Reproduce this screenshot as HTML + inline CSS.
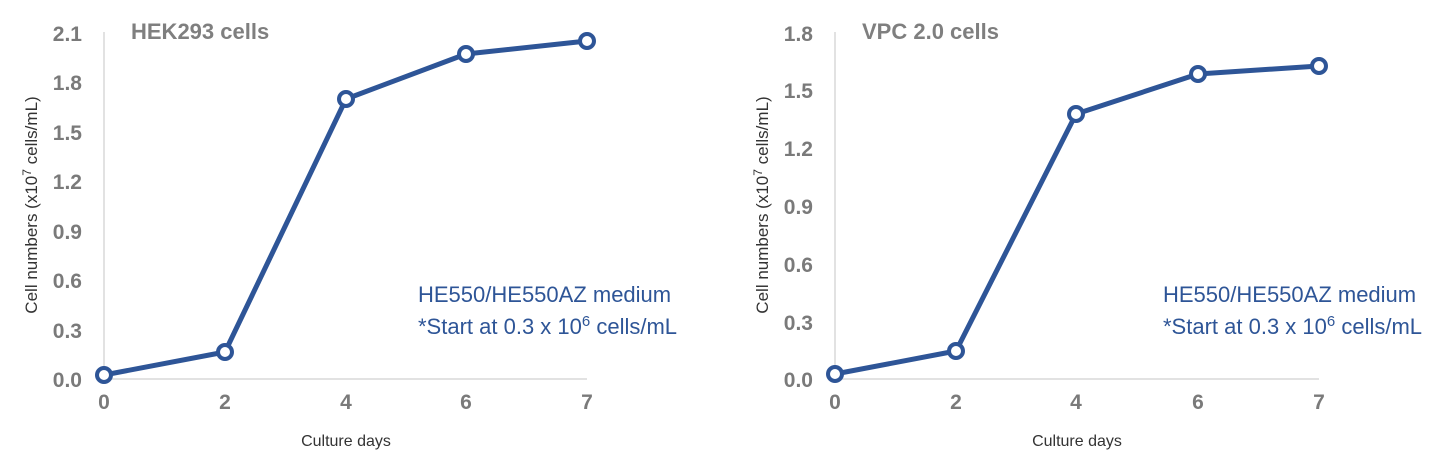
<!DOCTYPE html>
<html><head><meta charset="utf-8"><style>
html,body{margin:0;padding:0;background:#fff;}
svg{display:block;font-family:"Liberation Sans",Arial,sans-serif;}
</style></head><body>
<svg width="1440" height="475" viewBox="0 0 1440 475" xmlns="http://www.w3.org/2000/svg">
<g id="L">
  <line x1="104" y1="32" x2="104" y2="379" stroke="#d9d9d9" stroke-width="1.5"/>
  <line x1="104" y1="379" x2="587" y2="379" stroke="#d9d9d9" stroke-width="1.5"/>
  <g fill="#7a7a7a" font-size="21" font-weight="bold" text-anchor="end">
    <text x="82" y="387">0.0</text><text x="82" y="338">0.3</text><text x="82" y="288">0.6</text>
    <text x="82" y="239">0.9</text><text x="82" y="189">1.2</text><text x="82" y="140">1.5</text>
    <text x="82" y="90">1.8</text><text x="82" y="41">2.1</text>
  </g>
  <g fill="#7a7a7a" font-size="21" font-weight="bold" text-anchor="middle">
    <text x="104" y="409">0</text><text x="225" y="409">2</text><text x="346" y="409">4</text><text x="466" y="409">6</text><text x="587" y="409">7</text>
  </g>
  <text x="346" y="446" font-size="16" fill="#333" text-anchor="middle">Culture days</text>
  <text transform="translate(37,205) rotate(-90)" font-size="17" fill="#333" text-anchor="middle">Cell numbers (x10<tspan font-size="12" dy="-6">7</tspan><tspan dy="6"> cells/mL)</tspan></text>
  <text x="131" y="39" font-size="22" font-weight="bold" fill="#7f7f7f">HEK293 cells</text>
  <text x="418" y="302" font-size="22" fill="#2e5597">HE550/HE550AZ medium</text>
  <text x="418" y="334" font-size="22" fill="#2e5597">*Start at 0.3 x 10<tspan font-size="15" dy="-8">6</tspan><tspan dy="8"> cells/mL</tspan></text>
  <polyline points="104,375 225,352 346,99 466,54 587,41" fill="none" stroke="#2e5597" stroke-width="5" stroke-linejoin="round"/>
  <g fill="#fff" stroke="#2e5597" stroke-width="4">
    <circle cx="104" cy="375" r="7"/><circle cx="225" cy="352" r="7"/><circle cx="346" cy="99" r="7"/><circle cx="466" cy="54" r="7"/><circle cx="587" cy="41" r="7"/>
  </g>
</g>
<g id="R">
  <line x1="835" y1="32" x2="835" y2="379" stroke="#d9d9d9" stroke-width="1.5"/>
  <line x1="835" y1="379" x2="1319" y2="379" stroke="#d9d9d9" stroke-width="1.5"/>
  <g fill="#7a7a7a" font-size="21" font-weight="bold" text-anchor="end">
    <text x="813" y="387">0.0</text><text x="813" y="330">0.3</text><text x="813" y="272">0.6</text>
    <text x="813" y="214">0.9</text><text x="813" y="156">1.2</text><text x="813" y="98">1.5</text>
    <text x="813" y="41">1.8</text>
  </g>
  <g fill="#7a7a7a" font-size="21" font-weight="bold" text-anchor="middle">
    <text x="835" y="409">0</text><text x="956" y="409">2</text><text x="1076" y="409">4</text><text x="1198" y="409">6</text><text x="1319" y="409">7</text>
  </g>
  <text x="1077" y="446" font-size="16" fill="#333" text-anchor="middle">Culture days</text>
  <text transform="translate(768,205) rotate(-90)" font-size="17" fill="#333" text-anchor="middle">Cell numbers (x10<tspan font-size="12" dy="-6">7</tspan><tspan dy="6"> cells/mL)</tspan></text>
  <text x="862" y="39" font-size="22" font-weight="bold" fill="#7f7f7f">VPC 2.0 cells</text>
  <text x="1163" y="302" font-size="22" fill="#2e5597">HE550/HE550AZ medium</text>
  <text x="1163" y="334" font-size="22" fill="#2e5597">*Start at 0.3 x 10<tspan font-size="15" dy="-8">6</tspan><tspan dy="8"> cells/mL</tspan></text>
  <polyline points="835,374 956,351 1076,114 1198,74 1319,66" fill="none" stroke="#2e5597" stroke-width="5" stroke-linejoin="round"/>
  <g fill="#fff" stroke="#2e5597" stroke-width="4">
    <circle cx="835" cy="374" r="7"/><circle cx="956" cy="351" r="7"/><circle cx="1076" cy="114" r="7"/><circle cx="1198" cy="74" r="7"/><circle cx="1319" cy="66" r="7"/>
  </g>
</g>
</svg>
</body></html>
